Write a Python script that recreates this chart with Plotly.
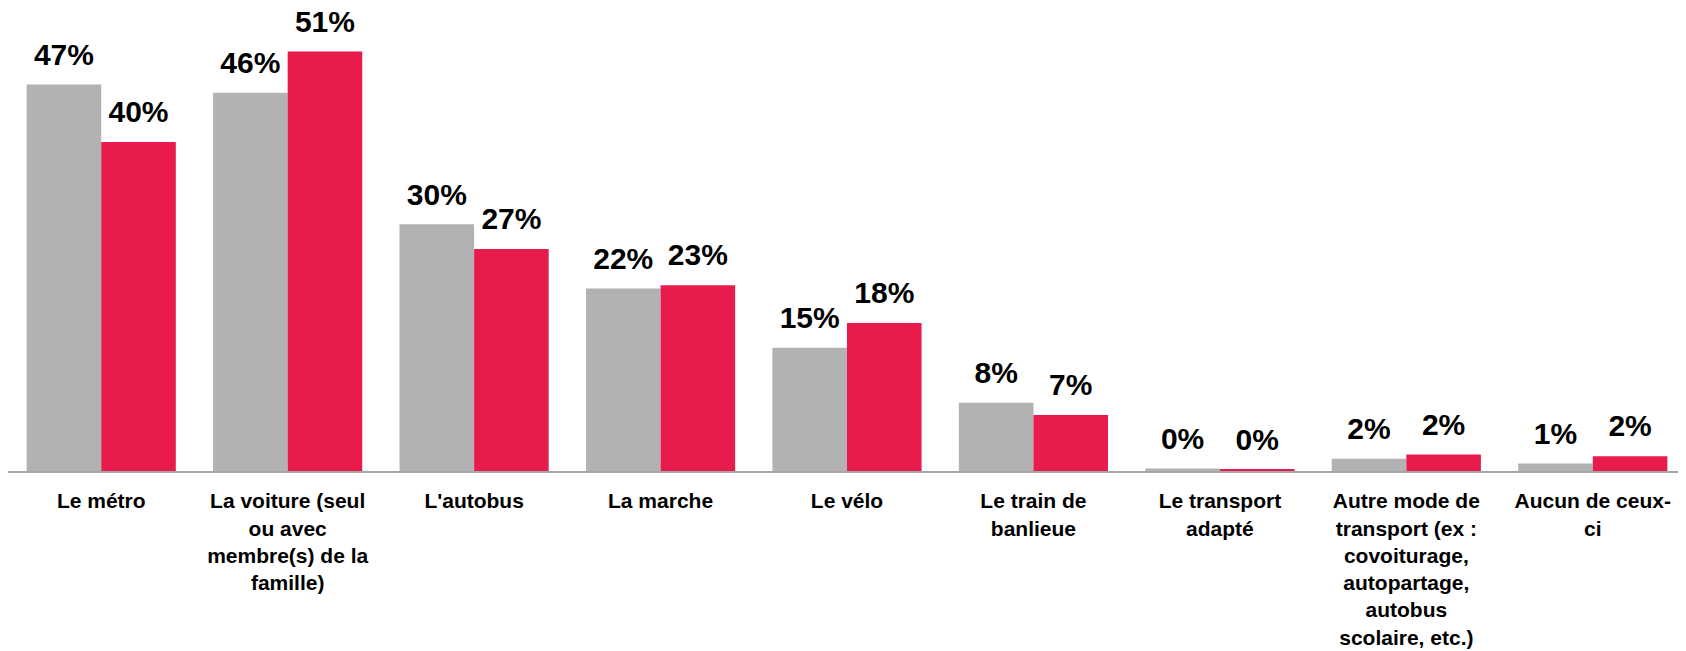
import plotly.graph_objects as go

CATEGORIES = [
    "Le métro",
    "La voiture (seul<br>ou avec<br>membre(s) de la<br>famille)",
    "L'autobus",
    "La marche",
    "Le vélo",
    "Le train de<br>banlieue",
    "Le transport<br>adapté",
    "Autre mode de<br>transport (ex :<br>covoiturage,<br>autopartage,<br>autobus<br>scolaire, etc.)",
    "Aucun de ceux-<br>ci",
]
# values (percent)
GREY_VALUES = [47, 46, 30, 22.2, 15, 8.3, 0.3, 1.5, 0.9]
RED_VALUES = [40, 51, 27, 22.6, 18, 6.8, 0.2, 2, 1.8]

GREY = "#B2B2B2"
RED = "#E81C4C"
FONT = "Arial, Liberation Sans, sans-serif"

fig = go.Figure()
series = (("Série 1", GREY_VALUES, GREY), ("Série 2", RED_VALUES, RED))
for name, vals, color in series:
    fig.add_trace(go.Bar(
        x=CATEGORIES, y=vals, name=name, marker_color=color,
        marker_line_width=0, offsetgroup=name,
    ))
# value labels as grouped text points, so they sit a bit higher above the bars
for name, vals, color in series:
    fig.add_trace(go.Scatter(
        x=CATEGORIES, y=vals, name=name, mode="markers+text",
        offsetgroup=name, marker=dict(size=18, opacity=0),
        texttemplate="%{y:.0f}%", textposition="top center",
        textfont=dict(family=FONT, size=30, color="black", weight="bold"),
        cliponaxis=False, hoverinfo="skip",
    ))

fig.update_layout(
    barmode="group", bargap=0.2, bargroupgap=0.0,
    scattermode="group", scattergap=0.2,
    showlegend=False,
    plot_bgcolor="white", paper_bgcolor="white",
    width=1678, height=643,
    margin=dict(l=0, r=0, t=0, b=180),
    font=dict(family=FONT, color="black"),
)
fig.update_xaxes(
    type="category", showline=True, linecolor="#A6A6A6", linewidth=2,
    ticks="", tickfont=dict(family=FONT, size=21, color="black", weight="bold"),
    ticklabelstandoff=10, showgrid=False,
)
fig.update_yaxes(range=[0, 56.3], visible=False, showgrid=False, zeroline=False)

fig.write_html("out.html")
